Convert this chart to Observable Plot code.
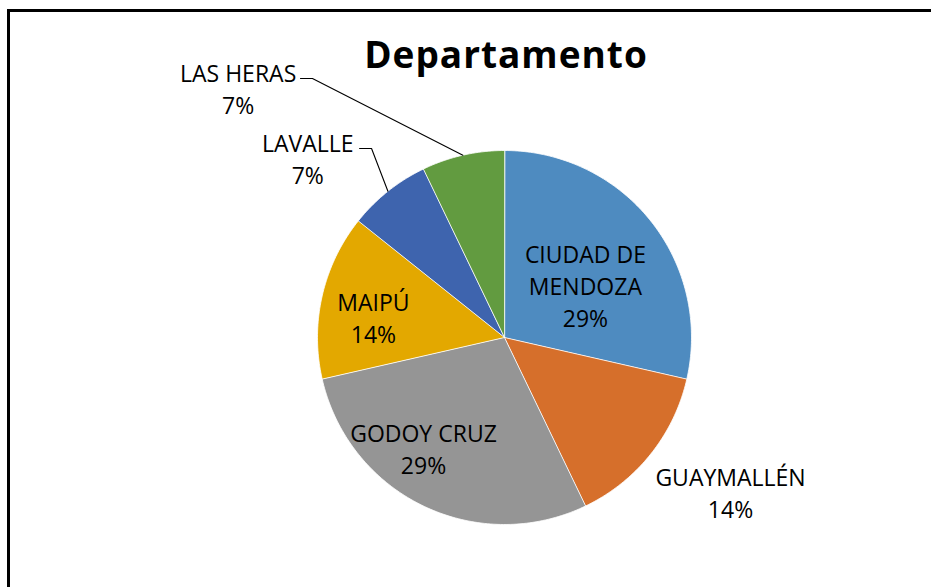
<!DOCTYPE html>
<html>
<head>
<meta charset="utf-8">
<script src="https://cdn.jsdelivr.net/npm/d3@7"></script>
<script src="https://cdn.jsdelivr.net/npm/@observablehq/plot@0.6"></script>
<style>
  html, body { margin: 0; padding: 0; background: #fff; overflow: hidden; }
  #wrap { position: relative; width: 931px; height: 587px; overflow: hidden; background: #fff; }
  #frame { position: absolute; left: 7px; top: 9px; width: 1000px; height: 1000px;
           border-left: 3px solid #000; border-top: 3px solid #000; box-sizing: border-box; }
  #chart { position: absolute; left: 0; top: 0; }
  #title { position: absolute; left: 306px; width: 400px; top: 35px; text-align: center;
           font-family: "Open Sans", sans-serif; font-weight: bold; font-size: 37px; line-height: 37px;
           letter-spacing: 1px; color: #000; }
</style>
</head>
<body>
<div id="wrap">
  <div id="frame"></div>
  <div id="chart"></div>
  <div id="title">Departamento</div>
</div>
<script>
// ---- data ----
const categories = ["CIUDAD DE MENDOZA", "GUAYMALLÉN", "GODOY CRUZ", "MAIPÚ", "LAVALLE", "LAS HERAS"];
const counts = [4, 2, 4, 2, 1, 1];
const percentLabels = ["29%", "14%", "29%", "14%", "7%", "7%"];
const labelNames = ["CIUDAD DE\nMENDOZA", "GUAYMALLÉN", "GODOY CRUZ", "MAIPÚ", "LAVALLE", "LAS HERAS"];
const colors = ["#4e8bc0", "#d66f2b", "#959595", "#e3a800", "#3e64ae", "#629b40"];

// ---- label layout (polar: radius factor, angle in degrees clockwise from top) ----
const labelRadius = [0.517, 1.463, 0.730, 0.710, 1.425, 1.954];
const labelAngle = [56.8, 124.3, 216.4, 279.1, 312.4, 313.2];
// leader elbows for outside labels (index -> [elbow, end] in unit coords)
const leaders = {4: [[-0.711, 1.011], [-0.775, 1.011]], 5: [[-1.027, 1.385], [-1.091, 1.385]]};

const rows = categories.map((c, i) => ({name: c, value: counts[i], pct: percentLabels[i], label: labelNames[i]}));
const arcs = d3.pie().sort(null).value(d => d.value)(rows);

// slice polygons from pie angles
const slicePts = [];
arcs.forEach(a => {
  slicePts.push({name: a.data.name, x: 0, y: 0});
  const n = Math.max(2, Math.ceil((a.endAngle - a.startAngle) / (Math.PI / 180)));
  for (let k = 0; k <= n; k++) {
    const t = a.startAngle + (a.endAngle - a.startAngle) * k / n;
    slicePts.push({name: a.data.name, x: Math.sin(t), y: Math.cos(t)});
  }
});

const labels = rows.map((r, i) => {
  const t = labelAngle[i] * Math.PI / 180;
  return {text: r.label + "\n" + r.pct, x: labelRadius[i] * Math.sin(t), y: labelRadius[i] * Math.cos(t)};
});

const leaderPts = [];
Object.entries(leaders).forEach(([i, pts]) => {
  const a = arcs[+i];
  const m = (a.startAngle + a.endAngle) / 2;
  leaderPts.push({id: i, x: Math.sin(m), y: Math.cos(m)});
  pts.forEach(p => leaderPts.push({id: i, x: p[0], y: p[1]}));
});

const chart = Plot.plot({
  width: 931,
  height: 587,
  margin: 0,
  style: {fontFamily: "'Open Sans', sans-serif", background: "transparent"},
  x: {domain: [-1, 1], range: [317, 691], axis: null},
  y: {domain: [-1, 1], range: [524, 150], axis: null},
  color: {domain: categories, range: colors, legend: false},
  marks: [
    Plot.line(slicePts, {x: "x", y: "y", z: "name", fill: "name", stroke: "#ffffff", strokeWidth: 0.8, curve: "linear-closed"}),
    Plot.line(leaderPts, {x: "x", y: "y", z: "id", stroke: "#000", strokeWidth: 1.1}),
    Plot.text(labels, {x: "x", y: "y", text: "text", fontSize: 23, lineHeight: 1.4, fill: "#000", textAnchor: "middle"})
  ]
});
document.getElementById("chart").appendChild(chart);
</script>
</body>
</html>
